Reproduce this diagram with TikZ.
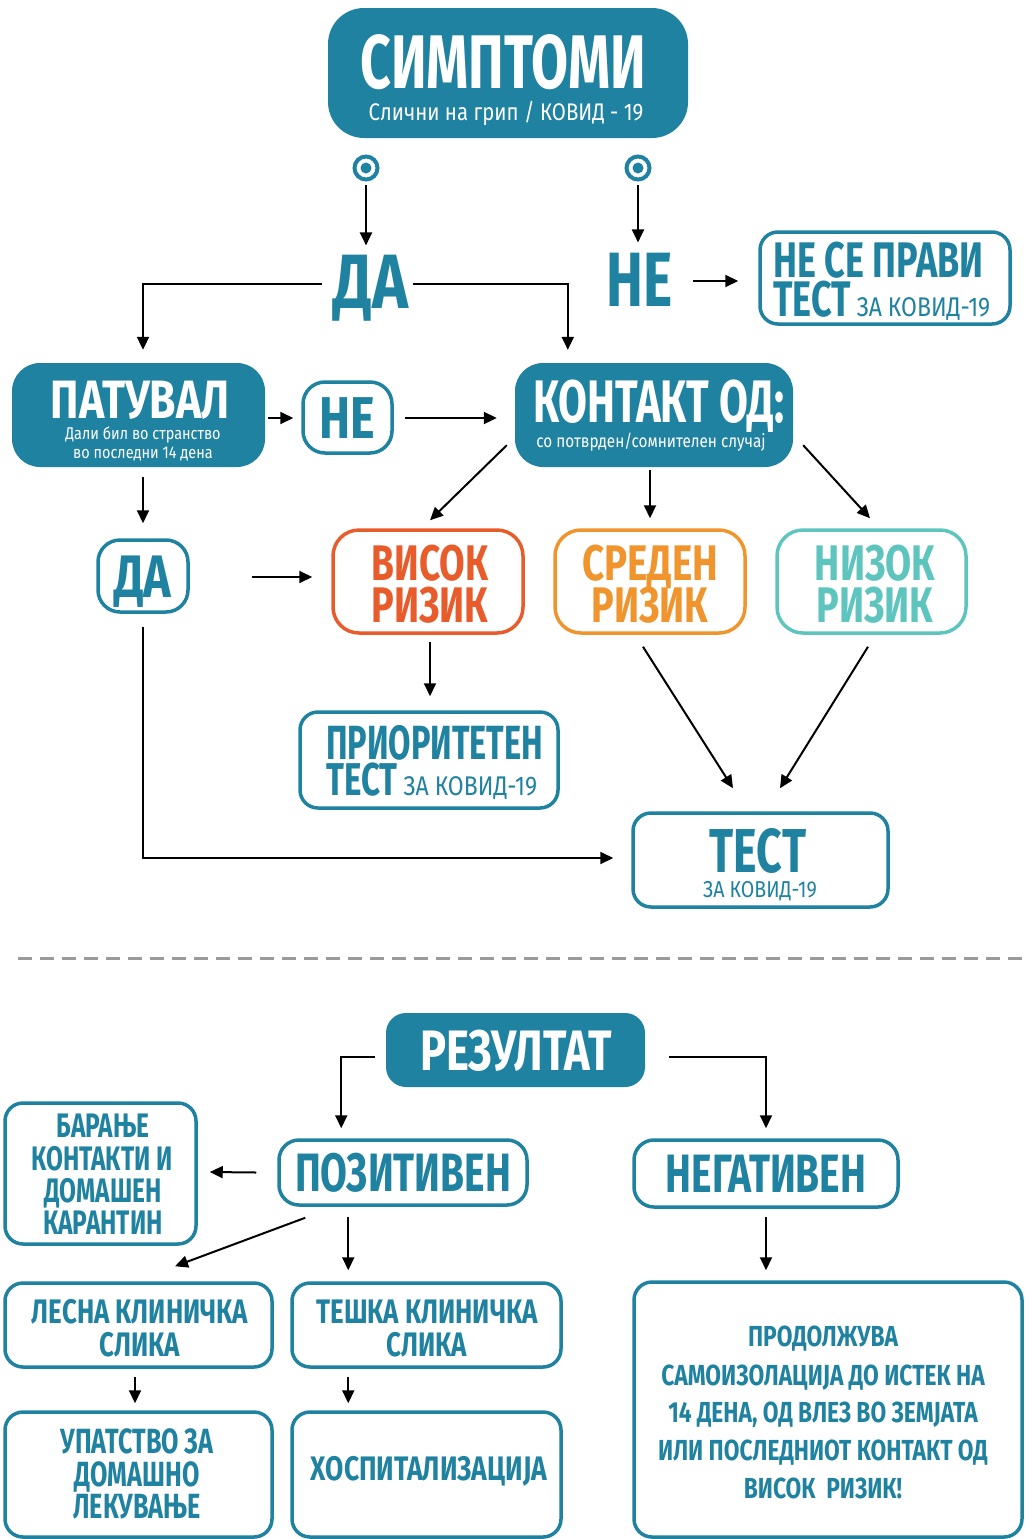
\documentclass[tikz,border=0pt]{standalone}
\usepackage{fontspec}
\setmainfont{Fira Sans}[FakeStretch=0.72]
\newfontfamily\regfam{Fira Sans}[FakeStretch=0.85]
\usetikzlibrary{arrows.meta,calc}
\definecolor{tl}{HTML}{1F82A0}
\definecolor{hired}{HTML}{E85C2C}
\definecolor{mdorg}{HTML}{F0952E}
\definecolor{lotq}{HTML}{5EC4BE}
\definecolor{dashgray}{HTML}{9A9A9A}
\newcommand\fb[1]{\fontsize{#1}{#1}\selectfont\bfseries}
\newcommand\fr[1]{\fontsize{#1}{#1}\regfam\mdseries\selectfont}
\newcommand\hs[2]{\scalebox{#1}[1]{#2}}
\begin{document}
\begin{tikzpicture}[x=1pt,y=-1pt,
  fbox/.style={fill=tl, rounded corners=30pt, inner sep=0pt},
  tbox/.style={draw=#1, line width=3.5pt, rounded corners=18pt, inner sep=0pt},
  tbox/.default=tl,
  lbl/.style={anchor=base, inner sep=0pt, text=tl},
  wlbl/.style={anchor=base, inner sep=0pt, text=white},
  arr/.style={line width=2pt, -{Triangle[length=13pt,width=12pt]}},
  ring/.style={circle, draw=tl, line width=4pt, minimum size=23pt, inner sep=0pt,
    path picture={\fill[tl] (path picture bounding box.center) circle (5.5pt);}}
]
\fill[white] (0,0) rectangle (1028,1539);
\path[use as bounding box] (0,0) rectangle (1028,1539);

% ---------- boxes ----------
\node[fbox, rounded corners=36pt, minimum width=360pt, minimum height=130pt] (sym) at (508,73) {};
\node[ring] (r1) at (366,168) {};
\node[ring] (r2) at (638,168) {};
\node[tbox, minimum width=250pt, minimum height=92pt] (nst) at (885,278) {};
\node[fbox, rounded corners=28pt, minimum width=253pt, minimum height=104pt] (pat) at (138.5,415) {};
\node[tbox, rounded corners=22pt, minimum width=89pt, minimum height=71pt] (ne2) at (347.5,417.5) {};
\node[fbox, rounded corners=28pt, minimum width=278pt, minimum height=104pt] (kon) at (654,415) {};
\node[tbox, rounded corners=22pt, minimum width=90pt, minimum height=72pt] (da2) at (143,576) {};
\node[tbox=hired, rounded corners=26pt, minimum width=190pt, minimum height=103pt] (vis) at (428,581.5) {};
\node[tbox=mdorg, rounded corners=26pt, minimum width=190pt, minimum height=103pt] (sre) at (650,581.5) {};
\node[tbox=lotq, rounded corners=26pt, minimum width=189pt, minimum height=103pt] (niz) at (871.5,581.5) {};
\node[tbox, minimum width=258pt, minimum height=96pt] (pri) at (429,760) {};
\node[tbox, minimum width=255pt, minimum height=94pt] (test) at (760.5,860) {};

\coordinate (d1) at (18,958);
\coordinate (d2) at (1024,958);

\node[fbox, rounded corners=20pt, minimum width=259pt, minimum height=74pt] (rez) at (515.5,1050) {};
\node[tbox, rounded corners=20pt, minimum width=248pt, minimum height=65pt] (poz) at (403,1172.5) {};
\node[tbox, rounded corners=20pt, minimum width=264pt, minimum height=67pt] (neg) at (766,1173.5) {};
\node[tbox, minimum width=191pt, minimum height=141pt] (bar) at (100.5,1173.5) {};
\node[tbox, minimum width=267pt, minimum height=84pt] (les) at (138.5,1325) {};
\node[tbox, minimum width=269pt, minimum height=84pt] (tes) at (426.5,1325) {};
\node[tbox, minimum width=267pt, minimum height=125pt] (upa) at (138.5,1474.5) {};
\node[tbox, minimum width=269pt, minimum height=125pt] (hos) at (426.5,1474.5) {};
\node[tbox, minimum width=388pt, minimum height=255pt] (pro) at (828,1409.5) {};

% ---------- texts ----------
\node[wlbl] (tsym1) at (503,88) {\fb{76}\hs{0.98}{СИМПТОМИ}};
\node[wlbl] (tsym2) at (506,120) {\fr{24}Слични на грип / КОВИД - 19};
\node[lbl] (da1) at (371,308) {\fb{77}\hs{1.1}{ДА}};
\node[lbl] (ne1) at (640,306) {\fb{77}НЕ};
\node[lbl, anchor=base west] (tnst1) at (773,277) {\fb{50}НЕ СЕ ПРАВИ};
\node[lbl, anchor=base west] (tnst2) at (773,316) {\fb{50}ТЕСТ\fr{27} ЗА КОВИД-19};
\node[wlbl] (tpat1) at (140,418) {\fb{54}\hs{1.1}{ПАТУВАЛ}};
\node[wlbl] (tpat2) at (143,439) {\fr{17}Дали бил во странство};
\node[wlbl] (tpat3) at (143,458) {\fr{17}во последни 14 дена};
\node[lbl] (tne2) at (347,438) {\fb{59}\hs{1.1}{НЕ}};
\node[wlbl] (tkon1) at (659,422) {\fb{60}\hs{0.97}{КОНТАКТ ОД:}};
\node[wlbl] (tkon2) at (651,447) {\fr{18}со потврден/сомнителен случај};
\node[lbl] (tda2) at (143,597) {\fb{60}\hs{1.08}{ДА}};
\node[lbl, text=hired] (tvis1) at (430,580) {\fb{50}\hs{1.03}{ВИСОК}};
\node[lbl, text=hired] (tvis2) at (430,622) {\fb{50}\hs{1.05}{РИЗИК}};
\node[lbl, text=mdorg] (tsre1) at (650,580) {\fb{50}\hs{1.07}{СРЕДЕН}};
\node[lbl, text=mdorg] (tsre2) at (650,622) {\fb{50}\hs{1.05}{РИЗИК}};
\node[lbl, text=lotq] (tniz1) at (875,580) {\fb{50}\hs{1.05}{НИЗОК}};
\node[lbl, text=lotq] (tniz2) at (875,622) {\fb{50}\hs{1.05}{РИЗИК}};
\node[lbl, anchor=base west] (tpri1) at (326,759) {\fb{48}\hs{0.94}{ПРИОРИТЕТЕН}};
\node[lbl, anchor=base west] (tpri2) at (326,795) {\fb{46}ТЕСТ\fr{27} ЗА КОВИД-19};
\node[lbl] (ttest1) at (758,872) {\fb{62}ТЕСТ};
\node[lbl] (ttest2) at (760,897) {\fr{23}ЗА КОВИД-19};
\node[wlbl] (trez) at (516,1070) {\fb{57}\hs{1.06}{РЕЗУЛТАТ}};
\node[lbl] (tpoz) at (403,1191) {\fb{54}ПОЗИТИВЕН};
\node[lbl] (tneg) at (766,1192) {\fb{54}НЕГАТИВЕН};
\node[lbl] (tbar1) at (103,1137) {\fb{34}БАРАЊЕ};
\node[lbl] (tbar2) at (102,1170) {\fb{34}КОНТАКТИ И};
\node[lbl] (tbar3) at (103,1202) {\fb{34}ДОМАШЕН};
\node[lbl] (tbar4) at (103,1234) {\fb{34}КАРАНТИН};
\node[lbl] (tles1) at (140,1323) {\fb{34}\hs{1.06}{ЛЕСНА КЛИНИЧКА}};
\node[lbl] (tles2) at (140,1356) {\fb{34}\hs{1.06}{СЛИКА}};
\node[lbl] (ttes1) at (427,1323) {\fb{34}\hs{1.06}{ТЕШКА КЛИНИЧКА}};
\node[lbl] (ttes2) at (427,1356) {\fb{34}\hs{1.06}{СЛИКА}};
\node[lbl] (tupa1) at (137,1453) {\fb{35}УПАТСТВО ЗА};
\node[lbl] (tupa2) at (137,1486) {\fb{35}ДОМАШНО};
\node[lbl] (tupa3) at (137,1518) {\fb{35}ЛЕКУВАЊЕ};
\node[lbl] (thos) at (429,1480) {\fb{34}\hs{1.08}{ХОСПИТАЛИЗАЦИЈА}};
\node[lbl] (tpro1) at (823,1346) {\fb{29}\hs{1.09}{ПРОДОЛЖУВА}};
\node[lbl] (tpro2) at (823,1385) {\fb{29}\hs{1.09}{САМОИЗОЛАЦИЈА ДО ИСТЕК НА}};
\node[lbl] (tpro3) at (823,1422) {\fb{29}\hs{1.09}{14 ДЕНА, ОД ВЛЕЗ ВО ЗЕМЈАТА}};
\node[lbl] (tpro4) at (823,1460) {\fb{29}\hs{1.09}{ИЛИ ПОСЛЕДНИОТ КОНТАКТ ОД}};
\node[lbl] (tpro5) at (823,1498) {\fb{29}\hs{1.09}{ВИСОК\ \ РИЗИК!}};

% ---------- connectors ----------
\draw[arr] ($(r1.south)+(0,3)$) -- ($(r1.south |- da1.north)+(0,-9)$);
\draw[arr] ($(r2.south)+(0,3)$) -- ($(r2.south |- ne1.north)+(0,-10)$);
\draw[arr] ($(da1.west)+(-12,-4)$) -| ($(pat.north)+(4.5,-13)$);
\draw[arr] ($(da1.east)+(5,-4)$) -| ($(kon.north west)+(53,-13)$);
\draw[arr] ($(ne1.east |- nst.west)+(20,3)$) -- ($(nst.west)+(-20,3)$);
\draw[arr] ($(pat.east)+(3,3)$) -- ($(ne2.west)+(-8,0.5)$);
\draw[arr] ($(ne2.east)+(11,0.5)$) -- ($(kon.west)+(-18,3)$);
\draw[arr] ($(kon.south west)+(-8,-22)$) -- ($(vis.north)+(2,-8)$);
\draw[arr] ($(kon.south -| sre.north)+(0,3)$) -- ($(sre.north)+(0,-10)$);
\draw[arr] ($(kon.south east)+(10,-22)$) -- ($(niz.north)+(-1.5,-10)$);
\draw[arr] ($(da2.north |- pat.south)+(0,10)$) -- ($(da2.north)+(0,-15)$);
\draw[arr] ($(da2.east)+(62,1)$) -- ($(vis.west)+(-19,-4.5)$);
\draw[arr] ($(vis.south)+(2,7)$) -- ($(vis.south |- pri.north)+(2,-14)$);
\draw[arr] ($(sre.south)+(-7,12)$) -- ($(test.north)+(-27.5,-23)$);
\draw[arr] ($(niz.south)+(-3.5,12)$) -- ($(test.north)+(19.5,-23)$);
\draw[arr] ($(da2.south)+(0,13)$) |- ($(test.west)+(-18,-2)$);

\draw[dashgray, line width=3pt, dash pattern=on 14pt off 8pt] (d1) -- (d2);

\draw[arr] ($(rez.west)+(-11,7)$) -| ($(poz.north west)+(64,-10)$);
\draw[arr] ($(rez.east)+(24,7)$) -| ($(neg.north)+(0,-10)$);
\draw[arr] ($(poz.west)+(-21,0)$) -- ($(bar.east)+(12,-1.5)$);
\draw[arr] ($(poz.south west)+(28,11)$) -- ($(les.north)+(36.5,-15)$);
\draw[arr] ($(poz.south west)+(71,10)$) -- ($(tes.north west)+(58,-11)$);
\draw[arr] ($(neg.south)+(0,8)$) -- ($(neg.south |- pro.north)+(0,-10)$);
\draw[arr] ($(les.south)+(-3.5,8)$) -- ($(les.south |- upa.north)+(-3.5,-7)$);
\draw[arr] ($(tes.south west)+(58,8)$) -- ($(hos.north west)+(58,-7)$);
\end{tikzpicture}
\end{document}
